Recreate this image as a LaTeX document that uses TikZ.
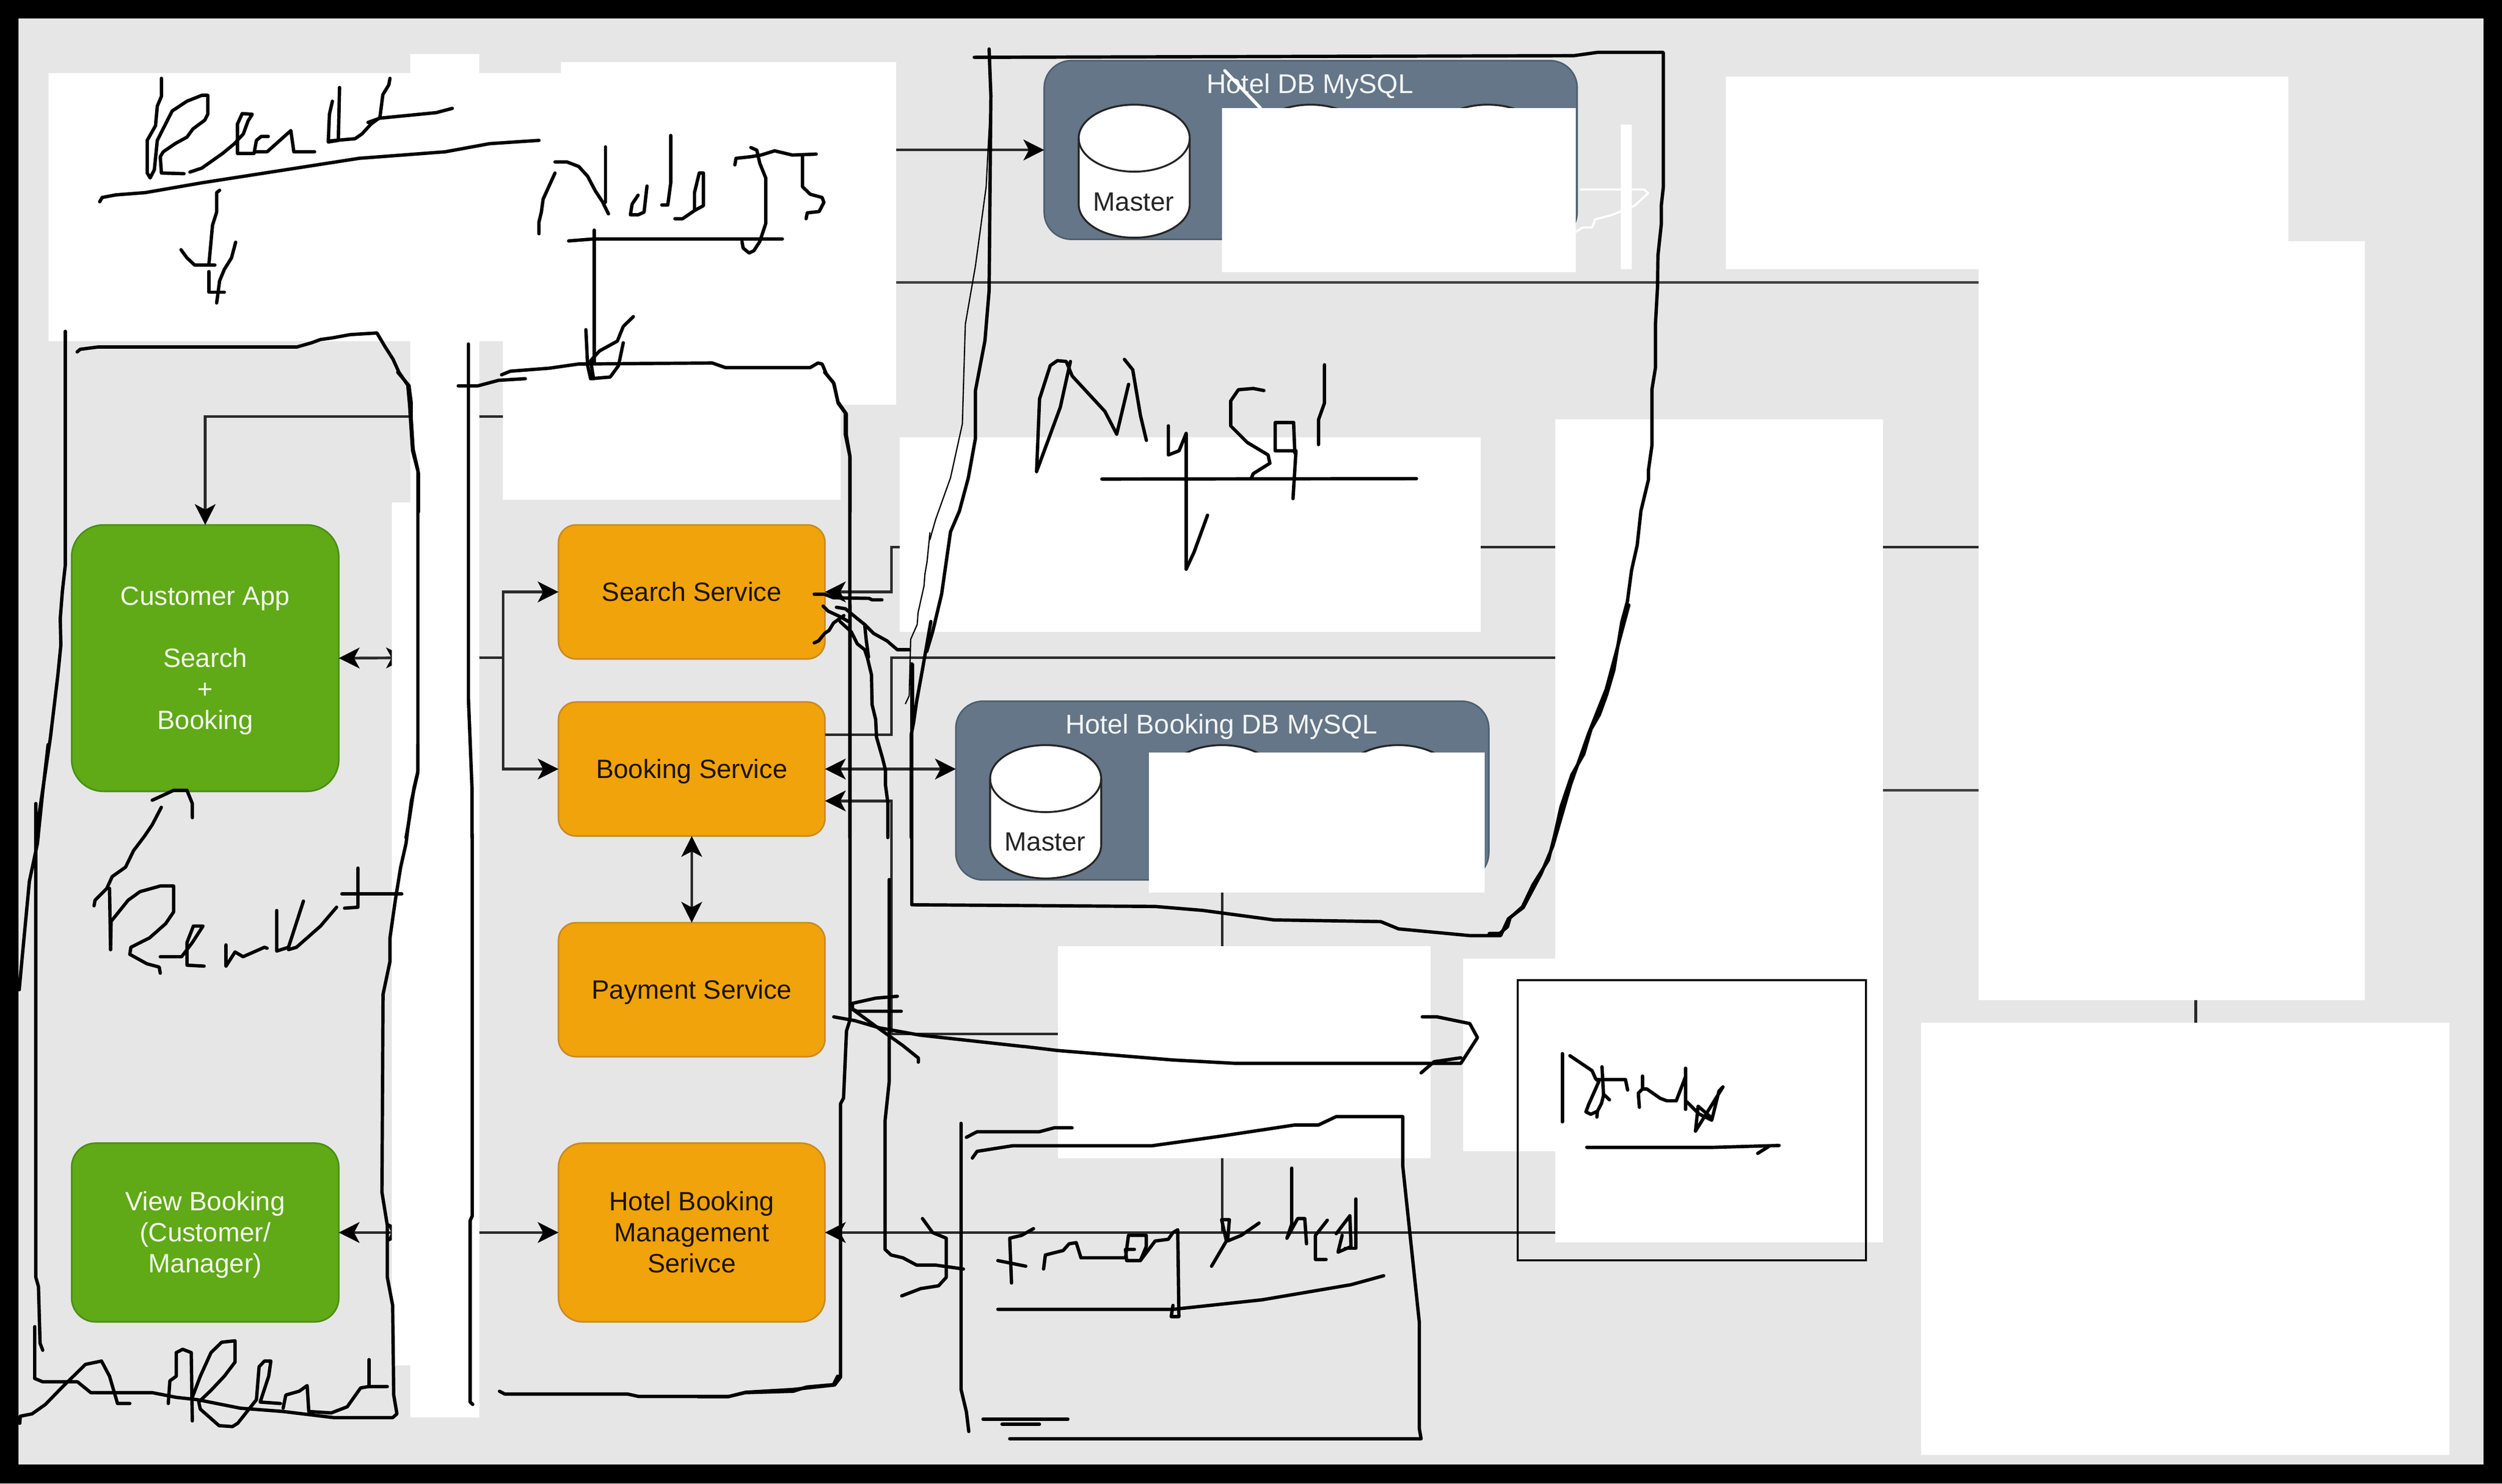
\documentclass[tikz,border=0pt]{standalone}
\usepackage{fontspec}
\setmainfont{Liberation Sans}
\usetikzlibrary{arrows.meta,calc}
\definecolor{bgg}{HTML}{E6E6E6}
\definecolor{grn}{HTML}{60A917}
\definecolor{grnb}{HTML}{4B8F14}
\definecolor{org}{HTML}{F0A30A}
\definecolor{orgb}{HTML}{C98A25}
\definecolor{dbf}{HTML}{647687}
\definecolor{dbb}{HTML}{4E5F70}
\definecolor{conn}{HTML}{2A2A2A}
\tikzset{
  tip/.tip={Stealth[length=13pt,width=13pt,inset=3.4pt,color=black]},
  conline/.style={draw=conn,line width=1.7pt},
  thinline/.style={draw=conn!90,line width=1.5pt},
  dblarrow/.style={conline,{tip}-{tip}},
  onearrow/.style={conline,-{tip}},
  baseboxx/.style={rectangle,outer sep=0pt,inner sep=0pt,align=center,line width=1pt,font=\fontsize{16.6}{19.5}\selectfont},
  greenbox/.style={baseboxx,fill=grn,draw=grnb,text=white!92!grn},
  orangebox/.style={baseboxx,fill=org,draw=orgb,text=black!88!org,minimum width=167pt},
  dbbox/.style={rectangle,outer sep=0pt,fill=dbf,draw=dbb,line width=1pt,rounded corners=17pt},
  dbtitle/.style={text=white!92!dbf,font=\fontsize{17}{20}\selectfont,inner sep=0pt},
  cyltext/.style={text=black!85,font=\fontsize{16.6}{20}\selectfont,inner sep=0pt},
  cylshape/.style={fill=white,draw=black!85,line width=1.2pt},
  patch/.style={fill=white,draw=none},
  pen/.style={draw=black,line width=2.1pt,line cap=round,line join=round},
  whitepen/.style={draw=white,line width=1.3pt,line cap=round,line join=round},
  zA/.style={x=0.372pt,y=-0.2046pt},
  zB/.style={xshift=525pt,x=0.372pt,y=-0.2604pt},
  zC/.style={xshift=437.5pt,yshift=-379.2pt,x=0.372pt,y=-0.3512pt},
  zD/.style={yshift=-466.7pt,x=0.3348pt,y=-0.2954pt},
  zE/.style={yshift=-233.3pt,x=0.186pt,y=-0.186pt},
  zF/.style={xshift=291.7pt,yshift=-233.3pt,x=0.186pt,y=-0.186pt},
  zG/.style={xshift=933.3pt,yshift=-597.9pt,x=0.1674pt,y=-0.1302pt},
  zH/.style={xshift=933.3pt,x=0.1302pt,y=-0.3906pt},
  zI/.style={xshift=495.8pt,yshift=-495.8pt,x=0.0972pt,y=-0.1302pt},
}
\newcommand{\pn}[1]{\draw[pen] plot[sharp plot] coordinates {#1};}
\newcommand{\lbl}[1]{\raisebox{-1.8pt}[\height][\depth]{\begin{tabular}{@{}c@{}}#1\end{tabular}}}
\newcommand{\cyl}[3]{% left x, top y, bottom y
  \path[cylshape] (#1,#2+21) -- (#1,#3-21) arc[start angle=180,end angle=360,x radius=34.8pt,y radius=21pt]
    -- ++(0,{-(#3-#2-42)}) arc[start angle=0,end angle=180,x radius=34.8pt,y radius=21pt] -- cycle;
  \draw[cylshape,fill=none] (#1,#2+21) arc[start angle=180,end angle=360,x radius=34.8pt,y radius=21pt];
}
\begin{document}
\begin{tikzpicture}[x=1pt,y=-1pt]
\useasboundingbox (0,0) rectangle (1568,929.83);
\fill[black] (0,0) rectangle (1568,929.83);
\fill[bgg] (11.7,11.7) rectangle (1556.3,918);

% boxes
\node[greenbox,minimum width=167.4pt,minimum height=167pt,rounded corners=20pt] (cust) at (128.6,412.5)
  {\lbl{Customer App\\[19.5pt]Search\\+\\Booking}};
\node[greenbox,minimum width=167.4pt,minimum height=112pt,rounded corners=15pt] (view) at (128.6,772.5)
  {\lbl{View Booking\\(Customer/\\Manager)}};
\node[orangebox,minimum height=84pt,rounded corners=11pt] (search) at (433.5,371) {\lbl{Search Service}};
\node[orangebox,minimum height=84pt,rounded corners=11pt] (book) at (433.5,482) {\lbl{Booking Service}};
\node[orangebox,minimum height=84pt,rounded corners=11pt] (pay) at (433.5,620.3) {\lbl{Payment Service}};
\node[orangebox,minimum height=112pt,rounded corners=15pt] (hbms) at (433.5,772.5) {\lbl{Hotel Booking\\Management\\Serivce}};

\node[dbbox,minimum width=334pt,minimum height=112pt] (hoteldb) at (821.4,94) {};
\node[dbbox,minimum width=334pt,minimum height=112pt] (bookdb) at (766,495.5) {};
\node[dbtitle] (hoteldbt) at (821,54) {Hotel DB MySQL};
\node[dbtitle] (bookdbt) at (765.5,455.5) {Hotel Booking DB MySQL};
\cyl{676}{65.6}{149}
\cyl{786.5}{65.6}{149}
\cyl{897.5}{65.6}{149}
\cyl{620.5}{467}{550.6}
\cyl{731}{467}{550.6}
\cyl{841.5}{467}{550.6}
\node[cyltext] (m1) at (710.5,126.5) {Master};
\node[cyltext] (m2) at (655,527.5) {Master};

% free ends of connectors (all lie behind the white patches)
\coordinate (a1) at (540,94);
\coordinate (a2) at (540,177);
\coordinate (a3) at (1250,177);
\coordinate (a4) at (330,261);
\coordinate (a5) at (1250,343);
\coordinate (a6) at (1000,412.3);
\coordinate (a7) at (1000,495.3);
\coordinate (a8) at (1250,495.3);
\coordinate (a9) at (700,648);
\coordinate (a10) at (255,412.3);
\coordinate (a11) at (290,412.3);
\coordinate (a12) at (255,772.5);
\coordinate (a13) at (290,772.5);
\coordinate (a14) at (1000,772.5);
\coordinate (a15) at (766,772.5);
\coordinate (a16) at (1376,620);
\coordinate (a17) at (1376,650);

% connectors
\draw[onearrow] (a1) -- (hoteldb.west);
\draw[thinline] (a2) -- (a3);
\draw[onearrow] (a4) -| (cust.north);
\draw[dblarrow] (cust.east) -- (a10);
\draw[conline] (a11) -- (315.4,412.3);
\draw[onearrow] (315.4,412.3) |- (search.west);
\draw[onearrow] (315.4,412.3) |- (book.west);
\draw[onearrow] (a5) -- (558.6,343) -- (558.6,371) -- (search.east);
\draw[conline] ([yshift=21.4pt]book.east) -- (558.6,460.6) -- (558.6,412.3) -- (a6);
\draw[dblarrow] (book.east) -- ([yshift=13.5pt]bookdb.west);
\draw[onearrow] (a9) -- (558.6,648) -- (558.6,502) -- ([yshift=-20pt]book.east);
\draw[dblarrow] (book.south) -- (pay.north);
\draw[thinline] (a7) -- (a8);
\draw[dblarrow] (view.east) -- (a12);
\draw[onearrow] (a13) -- (hbms.west);
\draw[onearrow] (a14) -- (hbms.east);
\draw[conline] (bookdb.south) -- (a15);
\draw[conline] (a16) -- (a17);

% white patches
\fill[patch] (30.5,45.8) rectangle (352,214);
\fill[patch] (257,34) rectangle (300.4,888.5);
\fill[patch] (245.5,315) rectangle (300.4,855.7);
\fill[patch] (351.5,39) rectangle (561.8,253.8);
\fill[patch] (315.3,200) rectangle (526.8,313.3);
\fill[patch] (765.7,67.6) rectangle (987.6,170.7);
\fill[patch] (1015.6,78) rectangle (1022.5,168.7);
\fill[patch] (1081.7,48) rectangle (1434,168.7);
\fill[patch] (1240,151) rectangle (1482,627);
\fill[patch] (1204,641) rectangle (1535,912);
\fill[patch] (974.5,262.8) rectangle (1180,778.6);
\fill[patch] (563.8,274.2) rectangle (928,396);
\fill[patch] (720,471.6) rectangle (930.4,559.4);
\fill[patch] (663,593) rectangle (896.5,726);
\fill[patch] (917,601) rectangle (974.5,721.6);

% outlined box
\draw[black,line width=1.3pt] (951.2,614.2) rectangle (1169.4,790);

% white pen marks
\begin{scope}[zB]
\draw[whitepen,line width=2pt] plot[sharp plot] coordinates {(652,170) (712,260)};
\end{scope}
\begin{scope}[zH]
\draw[whitepen] plot[sharp plot] coordinates {(441,304) (745,304) (765,310) (700,330) (590,345) (510,352) (495,365) (450,365) (417,372)};
\end{scope}

% handwriting
\begin{scope}[zA]
\pn{(272,240) (272,295) (265,325) (262,385) (248,430) (248,530) (253,545) (260,520) (265,430) (290,340) (315,310) (340,292) (350,292) (350,350) (345,368) (325,395) (315,420) (295,440) (275,465) (270,480) (272,530) (310,532)}
\pn{(320,527) (340,515) (375,470) (395,440) (410,410) (418,370) (425,350) (408,348) (400,380) (400,470) (428,470) (432,430) (440,418) (452,418)}
\pn{(430,465) (450,465) (490,400) (495,465) (530,465)}
\pn{(560,310) (555,350) (553,435) (570,430) (572,268)}
\pn{(553,432) (598,425) (610,410) (625,380) (640,360) (645,290) (655,260) (657,240)}
\pn{(620,375) (640,362) (735,345) (762,332)}
\pn{(168,618) (172,605) (195,597) (245,590) (340,560) (605,485) (750,465) (825,440) (908,430)}
\pn{(370,583) (365,590) (365,650) (358,690) (355,750) (352,808)}
\pn{(305,765) (315,790) (328,812) (362,812)}
\pn{(352,832) (352,895) (378,895)}
\pn{(397,742) (390,790) (378,825) (370,860) (365,928)}
\pn{(110,1015) (110,1568)}
\pn{(130,1078) (135,1070) (165,1063) (500,1063) (525,1050) (540,1040) (560,1035) (590,1025) (635,1020) (648,1060) (662,1100) (672,1140) (687,1180) (690,1240) (695,1380) (705,1450) (705,1568)}
\pn{(935,530) (915,610) (912,650) (908,680) (908,716)}
\pn{(935,496) (955,496) (975,510) (990,540) (1003,585) (1015,618) (1025,655)}
\pn{(1020,450) (1020,620)}
\pn{(1075,598) (1065,625) (1062,658) (1075,658) (1085,650) (1090,570)}
\pn{(1115,628) (1125,628) (1130,560) (1130,415)}
\pn{(1137,670) (1150,670) (1170,645) (1185,630) (1185,530) (1178,530) (1170,590) (1170,640)}
\pn{(1238,505) (1240,485) (1265,480) (1282,475) (1305,462) (1335,475) (1375,472)}
\pn{(1265,452) (1275,460) (1280,500) (1290,545) (1290,685) (1280,740) (1270,768) (1262,775) (1252,760) (1250,740)}
\pn{(1352,478) (1352,572) (1365,595) (1385,605) (1388,620) (1380,648) (1360,652) (1358,670)}
\pn{(958,738) (1000,732) (1318,732)}
\pn{(1001,705) (1001,1110)}
\pn{(987,1010) (990,1120) (995,1160) (1028,1155) (1042,1120) (1050,1050)}
\pn{(1067,970) (1050,1000) (1040,1045) (1010,1075) (995,1105) (1000,1160)}
\pn{(772,1182) (805,1182) (840,1165) (885,1160)}
\pn{(845,1148) (860,1137) (925,1128) (975,1115) (1200,1112) (1222,1126) (1365,1126) (1378,1112) (1385,1115) (1392,1145) (1405,1175) (1412,1235) (1424,1265) (1424,1330) (1432,1400) (1432,1568)}
\end{scope}

\begin{scope}[zE]
\pn{(1340,0) (1378,45) (1385,100) (1385,150) (1392,260) (1408,330) (1408,1345) (1395,1400) (1380,1500) (1368,1568)}
\pn{(220,0) (220,650) (210,740) (203,830) (205,920) (195,1020) (170,1230) (145,1400) (130,1500) (128,1568)}
\pn{(120,1455) (120,1568)}
\end{scope}

\begin{scope}[zD]
\pn{(782,0) (782,60) (770,120) (760,210) (750,260) (740,330) (730,410) (730,460) (717,530) (715,950) (725,1020) (725,1130) (735,1190) (737,1380) (743,1420) (735,1428) (625,1428) (530,1415) (450,1408) (370,1390) (330,1385) (285,1375) (170,1375) (145,1352) (80,1352) (65,1345) (65,1235)}
\pn{(80,1285) (75,1270) (72,1150) (67,1130) (67,125)}
\pn{(90,0) (80,100) (70,210) (55,290) (40,470) (36,520)}
\pn{(285,118) (310,105) (325,97) (350,97) (360,125) (360,155)}
\pn{(302,133) (285,170) (270,195) (250,225) (235,260) (210,280) (200,305) (178,330) (176,342)}
\pn{(207,435) (205,305)}
\pn{(207,435) (208,375) (240,330) (262,312) (300,300) (325,300) (325,355) (310,380) (280,410) (245,430) (243,445) (275,465) (298,472) (300,485)}
\pn{(300,450) (340,450) (360,420) (380,385) (362,385) (350,420) (350,468) (382,470)}
\pn{(423,425) (423,470) (440,440) (455,450) (475,440) (495,430) (500,432)}
\pn{(518,352) (518,438) (540,430) (568,332)}
\pn{(540,435) (555,430) (600,385) (630,345)}
\pn{(670,262) (670,345) (645,347)}
\pn{(640,317) (752,317)}
\pn{(37,1440) (38,1425) (60,1420) (85,1400) (115,1365) (160,1315) (190,1308) (205,1340) (220,1398) (243,1398)}
\pn{(330,1290) (330,1340) (318,1350) (315,1398)}
\pn{(330,1290) (342,1283) (358,1290) (360,1435)}
\pn{(360,1385) (375,1340) (395,1290) (415,1268) (440,1265) (440,1310) (420,1340) (395,1370) (372,1395) (375,1410) (410,1445) (435,1447) (445,1440) (480,1390) (485,1320) (495,1308) (507,1308) (503,1340) (487,1395) (525,1398)}
\pn{(530,1408) (535,1380) (560,1372) (575,1360) (578,1415) (620,1418) (650,1405) (675,1365) (690,1362) (725,1362)}
\pn{(691,1305) (691,1362)}
\pn{(935,1372) (945,1378) (1175,1378) (1195,1383) (1365,1383) (1395,1375) (1485,1372) (1510,1363) (1560,1358) (1568,1340)}
\end{scope}

\begin{scope}[zF]
\pn{(10,-95) (10,1100) (22,1400) (22,1568)}
\end{scope}
\begin{scope}[zD]
\pn{(884,190) (884,1000) (880,1010) (880,1395) (885,1400)}
\end{scope}

\begin{scope}[zF]
\pn{(1210,0) (1240,35) (1255,100) (1283,140) (1283,210) (1295,280) (1295,1568)}
\pn{(1175,748) (1210,748) (1240,760) (1360,762) (1370,767) (1403,767)}
\pn{(1205,788) (1222,805) (1265,825) (1290,840)}
\pn{(1250,792) (1280,797) (1320,830) (1345,850) (1375,880) (1420,905) (1455,935) (1495,935)}
\pn{(1175,912) (1190,905) (1210,880) (1225,870) (1240,845) (1275,820)}
\pn{(1262,840) (1300,875) (1320,915) (1345,935) (1355,965) (1368,1020) (1370,1120) (1382,1170) (1385,1230) (1405,1300) (1415,1340) (1415,1390) (1423,1450) (1423,1568)}
\pn{(1345,850) (1350,900) (1358,960)}
\pn{(1507,985) (1507,1200)}
\pn{(1568,840) (1540,1000) (1520,1110) (1510,1180) (1502,1220) (1502,1568)}
\draw[black,line width=0.8pt] plot[sharp plot] coordinates {(1565,540) (1555,640) (1548,680) (1545,720) (1525,810) (1522,850) (1500,900) (1495,1090) (1482,1118)};
\end{scope}

\begin{scope}[zI]
\pn{(685,988) (545,997) (395,1022) (395,1050) (425,1060) (710,1060)}
\pn{(395,1050) (560,1140) (720,1225) (820,1285) (820,1305)}
\pn{(275,1087) (410,1105) (570,1140) (830,1175) (1500,1230)}
\end{scope}

\begin{scope}[zC]
\pn{(256,0) (256,740) (250,760) (245,880) (240,890) (240,1378) (230,1392) (160,1400) (80,1405) (50,1413) (0,1413)}
\pn{(322,490) (322,850) (315,920) (315,1150) (325,1160) (345,1165) (368,1178) (400,1178) (447,1185)}
\pn{(550,788) (605,795) (800,812) (905,818) (1285,818) (1313,772) (1300,747) (1245,735) (1220,735)}
\pn{(1285,808) (1240,815) (1218,835)}
\pn{(378,1095) (395,1120) (418,1130) (418,1200) (405,1215) (375,1220) (343,1233)}
\pn{(443,925) (443,1400) (452,1440) (456,1475)}
\pn{(452,950) (470,940) (575,940) (600,933) (630,933)}
\pn{(462,987) (470,975) (530,965) (765,965) (880,948) (1005,928) (1045,928) (1075,913) (1187,913) (1187,1000) (1215,1280) (1215,1470) (1218,1488) (525,1488)}
\pn{(480,1453) (623,1453)}
\pn{(512,1462) (575,1462)}
\pn{(528,1210) (525,1130) (545,1125) (565,1113)}
\pn{(505,1170) (552,1180)}
\pn{(582,1185) (585,1160) (615,1152) (625,1140) (637,1138) (645,1165) (720,1165) (725,1125) (755,1125) (755,1145) (745,1170) (722,1170) (720,1150) (735,1150)}
\pn{(745,1170) (770,1135) (792,1132) (800,1120) (808,1115) (810,1270) (797,1270) (800,1250)}
\pn{(865,1180) (890,1135) (882,1097) (895,1097) (892,1135) (915,1125) (945,1103)}
\pn{(1000,1005) (1000,1105) (992,1130) (1010,1095) (1022,1095) (1025,1140)}
\pn{(1060,1098) (1040,1125) (1040,1168) (1058,1168)}
\pn{(1075,1122) (1098,1090) (1100,1145) (1078,1155) (1085,1125)}
\pn{(1108,1060) (1108,1148) (1090,1148)}
\pn{(505,1257) (800,1257) (950,1240) (1100,1213) (1155,1197)}
\pn{(360,105) (360,535) (770,538) (850,545) (970,562) (1150,565) (1180,578) (1300,590) (1352,590) (1365,560) (1390,540) (1420,480) (1440,430) (1470,320) (1500,230) (1530,150) (1568,0)}
\end{scope}

\begin{scope}[zB]
\pn{(255,118) (258,230) (255,700) (248,820) (232,940) (232,1055) (220,1150) (205,1230) (190,1280) (175,1430) (160,1520) (150,1568)}
\pn{(230,138) (1240,134) (1280,126) (1390,126)}
\draw[black,line width=0.8pt] plot[sharp plot] coordinates {(258,230) (250,450) (232,640) (215,780) (212,920) (210,1020) (190,1150) (165,1250) (155,1300)};
\pn{(335,1135) (340,960) (358,880) (370,868) (385,870) (395,905) (450,990) (470,1045) (490,925)}
\pn{(335,1135) (375,980) (392,870)}
\pn{(483,865) (497,890) (510,1000) (520,1060)}
\pn{(557,1025) (557,1095) (575,1085) (587,1043) (587,1370) (600,1330) (623,1240)}
\pn{(718,940) (700,935) (675,938) (662,965) (662,1025) (690,1065) (725,1095) (728,1115) (700,1140) (697,1150)}
\pn{(768,1017) (737,1017) (737,1085) (772,1085) (767,1200)}
\pn{(768,1017) (770,1090)}
\pn{(820,878) (820,970) (810,1010) (810,1070)}
\pn{(445,1153) (975,1152)}
\end{scope}

\begin{scope}[zH]
\pn{(838,85) (838,300) (828,330) (828,360) (812,410) (810,460) (800,520) (800,590) (783,625) (783,715) (766,755) (766,770) (730,820) (712,875) (685,915) (665,965) (638,998) (600,1075) (565,1115) (530,1147) (490,1170) (455,1210) (398,1243) (345,1295) (315,1340) (285,1380) (210,1420) (160,1455) (100,1473) (88,1487) (50,1498) (0,1498)}
\end{scope}

\begin{scope}[zG]
\pn{(274,480) (274,808)}
\pn{(302,490) (385,562) (398,600) (410,615) (372,725) (362,760) (380,772) (405,757) (420,720) (428,680) (422,543)}
\pn{(405,605) (510,605) (518,655)}
\pn{(403,785) (405,757)}
\pn{(432,680) (450,702)}
\pn{(574,588) (574,650)}
\pn{(562,738) (558,670) (574,650) (590,650) (640,695) (665,707) (700,707) (735,590)}
\pn{(735,550) (735,748)}
\pn{(740,712) (785,770) (833,800) (860,660) (875,640) (772,853) (782,733) (833,790)}
\pn{(365,931) (840,931) (1085,922)}
\pn{(1005,960) (1045,928)}
\end{scope}
\end{tikzpicture}
\end{document}
